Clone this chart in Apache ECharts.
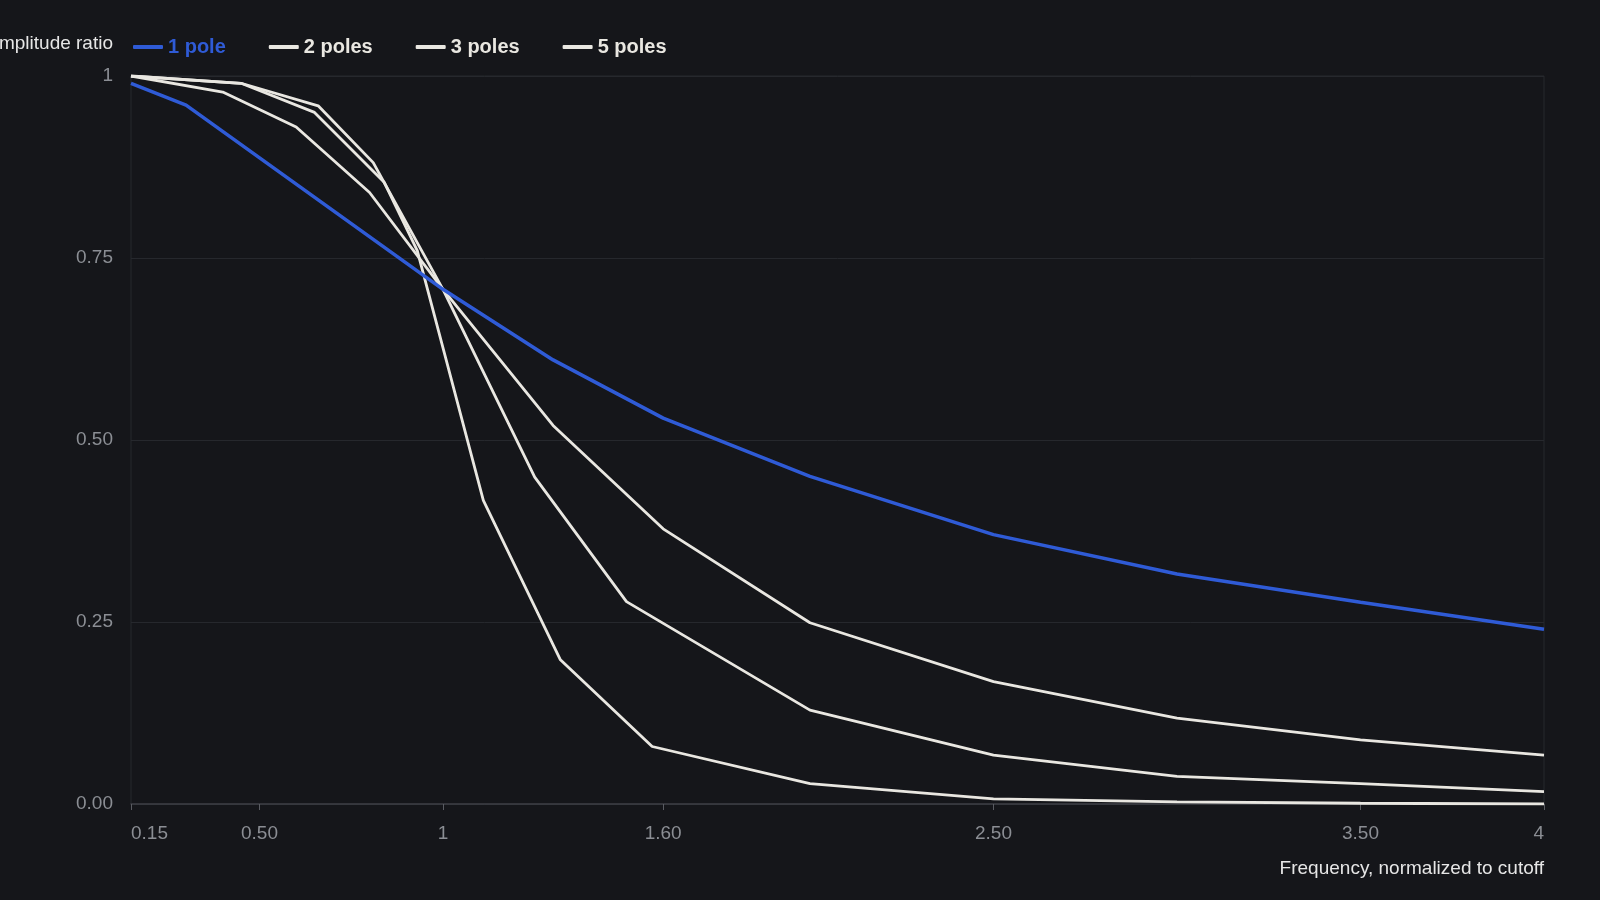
<!DOCTYPE html>
<html>
<head>
<meta charset="utf-8">
<script src="https://cdn.jsdelivr.net/npm/echarts@6/dist/echarts.min.js"></script>
<style>
  html, body { margin: 0; padding: 0; background: #15161a; }
  #container { width: 1600px; height: 900px; }
</style>
</head>
<body>
<div id="container"></div>
<script>
// frequency (normalized to cutoff) and amplitude ratio
var seriesNames = ['1 pole', '2 poles', '3 poles', '5 poles'];

var pole1X = [0.15, 0.3, 1.0, 1.3, 1.6, 2.0, 2.5, 3.0, 3.5, 4.0];
var pole1Y = [0.99, 0.96, 0.707, 0.61, 0.53, 0.45, 0.37, 0.316, 0.277, 0.24];

var pole2X = [0.15, 0.4, 0.6, 0.8, 1.0, 1.3, 1.6, 2.0, 2.5, 3.0, 3.5, 4.0];
var pole2Y = [1.0, 0.978, 0.93, 0.84, 0.707, 0.52, 0.378, 0.249, 0.168, 0.118, 0.088, 0.067];

var pole3X = [0.15, 0.45, 0.66, 0.81, 1.0, 1.25, 1.5, 2.0, 2.5, 3.0, 3.5, 4.0];
var pole3Y = [1.0, 0.99, 0.959, 0.881, 0.707, 0.449, 0.278, 0.129, 0.067, 0.038, 0.028, 0.017];

var pole5X = [0.15, 0.45, 0.65, 0.84, 0.93, 1.11, 1.32, 1.57, 2.0, 2.5, 3.0, 3.5, 4.0];
var pole5Y = [1.0, 0.99, 0.95, 0.854, 0.76, 0.417, 0.198, 0.079, 0.028, 0.007, 0.003, 0.001, 0.0];

var xTicks = [0.15, 0.5, 1, 1.6, 2.5, 3.5, 4];

function pairs(xs, ys) {
  return xs.map(function (x, i) { return [x, ys[i]]; });
}

var blue = '#2f5bd6';
var white = '#e9e7e1';

var dom = document.getElementById('container');
var myChart = echarts.init(dom, null, { renderer: 'canvas' });

var option = {
  backgroundColor: '#15161a',
  textStyle: { fontFamily: '"Liberation Sans", Arial, sans-serif' },
  legend: {
    left: 128,
    top: 32,
    itemGap: 43,
    itemWidth: 30,
    itemHeight: 4,
    icon: 'roundRect',
    textStyle: { color: white, fontSize: 20, fontWeight: 'bold' },
    data: [
      { name: '1 pole', textStyle: { color: blue } },
      '2 poles', '3 poles', '5 poles'
    ]
  },
  grid: {
    left: 131,
    right: 56,
    top: 76,
    bottom: 96,
    outerBoundsMode: 'none',
    containLabel: false,
    show: true,
    borderColor: '#26282d',
    borderWidth: 1
  },
  xAxis: {
    type: 'value',
    min: 0.15,
    max: 4,
    name: 'Frequency, normalized to cutoff',
    nameLocation: 'end',
    nameGap: 0,
    nameTextStyle: {
      color: '#e6e6e6', fontSize: 19, align: 'right', verticalAlign: 'top',
      padding: [55, 0, 0, 0]
    },
    axisLine: { lineStyle: { color: '#3c3e44', width: 1.5 } },
    axisTick: { show: true, length: 6, customValues: xTicks, lineStyle: { color: '#5a5c62' } },
    splitLine: { show: false },
    axisLabel: {
      customValues: xTicks,
      color: '#8b8e94',
      fontSize: 19,
      margin: 20,
      alignMinLabel: 'left',
      alignMaxLabel: 'right',
      formatter: function (v) {
        return Number.isInteger(v) ? String(v) : v.toFixed(2);
      }
    }
  },
  yAxis: {
    type: 'value',
    min: 0,
    max: 1,
    interval: 0.25,
    name: 'Amplitude ratio',
    nameLocation: 'end',
    nameGap: 32,
    nameTextStyle: {
      color: '#e6e6e6', fontSize: 19, align: 'right', verticalAlign: 'middle',
      padding: [0, 18, 0, 0]
    },
    axisLine: { show: false },
    axisTick: { show: false },
    splitLine: { lineStyle: { color: '#26282d', width: 1 } },
    axisLabel: {
      color: '#8b8e94',
      fontSize: 19,
      margin: 18,
      formatter: function (v) {
        return v === 1 ? '1' : v.toFixed(2);
      }
    }
  },
  series: [
    {
      name: seriesNames[0], type: 'line', symbol: 'none', z: 5,
      itemStyle: { color: blue },
      lineStyle: { color: blue, width: 3.5 },
      data: pairs(pole1X, pole1Y)
    },
    {
      name: seriesNames[1], type: 'line', symbol: 'none',
      itemStyle: { color: white },
      lineStyle: { color: white, width: 2.8 },
      data: pairs(pole2X, pole2Y)
    },
    {
      name: seriesNames[2], type: 'line', symbol: 'none',
      itemStyle: { color: white },
      lineStyle: { color: white, width: 2.8 },
      data: pairs(pole3X, pole3Y)
    },
    {
      name: seriesNames[3], type: 'line', symbol: 'none',
      itemStyle: { color: white },
      lineStyle: { color: white, width: 2.8 },
      data: pairs(pole5X, pole5Y)
    }
  ]
};

myChart.setOption(option);
window.addEventListener('resize', myChart.resize);
</script>
</body>
</html>
